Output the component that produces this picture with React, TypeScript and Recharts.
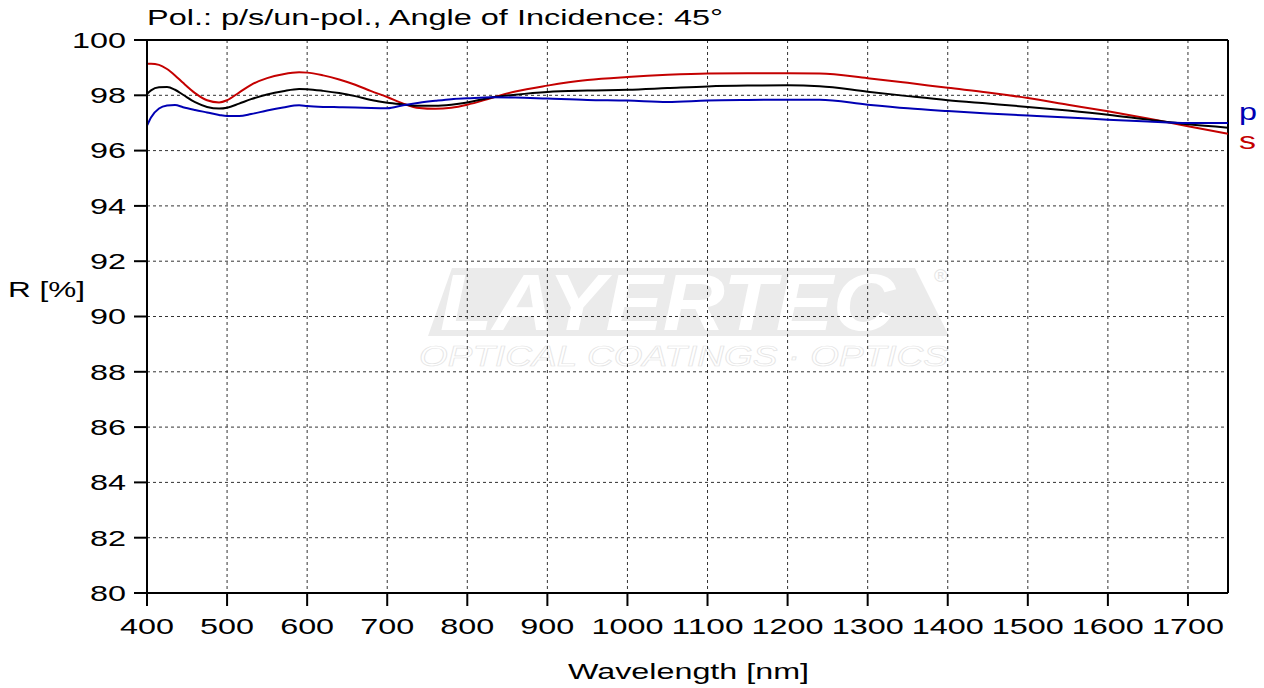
import React from "react";
import {
  LineChart,
  Line,
  XAxis,
  YAxis,
  CartesianGrid,
  ReferenceLine,
} from "recharts";

const WAVELENGTHS = [
  400, 405, 415, 425, 435, 445, 460, 475, 490, 500, 515, 530, 550, 570, 590,
  600, 620, 640, 660, 680, 700, 720, 740, 760, 780, 800, 830, 860, 900, 950,
  1000, 1050, 1100, 1150, 1200, 1240, 1300, 1350, 1400, 1450, 1500, 1550, 1600,
  1650, 1700, 1750,
];

const R_S = [
  99.14, 99.14, 99.1, 98.95, 98.72, 98.45, 98.08, 97.82, 97.74, 97.82, 98.1,
  98.38, 98.62, 98.76, 98.83, 98.82, 98.72, 98.57, 98.38, 98.15, 97.94, 97.7,
  97.54, 97.51, 97.55, 97.66, 97.9, 98.14, 98.35, 98.55, 98.66, 98.74, 98.79,
  98.8, 98.8, 98.79, 98.62, 98.45, 98.27, 98.1, 97.9, 97.66, 97.42, 97.16,
  96.88, 96.61,
];

const R_UNPOL = [
  98.05, 98.18, 98.29, 98.3, 98.2, 98.02, 97.75, 97.58, 97.52, 97.55, 97.7,
  97.86, 98.03, 98.15, 98.23, 98.22, 98.16, 98.08, 97.97, 97.83, 97.73, 97.67,
  97.62, 97.62, 97.66, 97.74, 97.92, 98.02, 98.12, 98.17, 98.2, 98.26, 98.32,
  98.35, 98.36, 98.33, 98.13, 97.97, 97.82, 97.7, 97.58, 97.45, 97.3, 97.12,
  96.95, 96.83,
];

const R_P = [
  96.9, 97.2, 97.52, 97.63, 97.65, 97.57, 97.47, 97.38, 97.29, 97.25, 97.25,
  97.32, 97.45, 97.56, 97.64, 97.61, 97.58, 97.57, 97.56, 97.54, 97.53, 97.64,
  97.73, 97.8, 97.86, 97.89, 97.93, 97.92, 97.88, 97.83, 97.81, 97.76, 97.81,
  97.83, 97.84, 97.84, 97.66, 97.53, 97.43, 97.34, 97.27, 97.2, 97.12, 97.05,
  97.0, 97.0,
];

const X_TICKS = [400, 500, 600, 700, 800, 900, 1000, 1100, 1200, 1300, 1400, 1500, 1600, 1700];
const Y_TICKS = [80, 82, 84, 86, 88, 90, 92, 94, 96, 98, 100];

const data = WAVELENGTHS.map((wl, i) => ({
  wl,
  s: R_S[i],
  unpol: R_UNPOL[i],
  p: R_P[i],
}));

const FONT = "'Liberation Sans', Arial, sans-serif";
const RED = "#c40000";
const BLUE = "#0000b4";
const DIGIT_W = 18;

function XTick(props: any) {
  const { x, y, payload } = props;
  const label = String(payload.value);
  return (
    <text
      x={x}
      y={y}
      dy={16}
      textAnchor="middle"
      fontSize={22}
      fontFamily={FONT}
      fill="#000"
      textLength={label.length * DIGIT_W}
      lengthAdjust="spacingAndGlyphs"
    >
      {label}
    </text>
  );
}

function YTick(props: any) {
  const { x, y, payload } = props;
  const label = String(payload.value);
  return (
    <text
      x={x}
      y={y}
      dy={7.8}
      textAnchor="end"
      fontSize={22}
      fontFamily={FONT}
      fill="#000"
      textLength={label.length * DIGIT_W}
      lengthAdjust="spacingAndGlyphs"
    >
      {label}
    </text>
  );
}

// logo watermark, sits behind the grid
function Watermark() {
  return (
    <svg
      width={1264}
      height={688}
      style={{ position: "absolute", left: 0, top: 0 }}
    >
      <polygon points="452,268 915,268 949,336 428,336" fill="#ebebeb" />
      <text
        x={440}
        y={330}
        fontSize={80}
        fontWeight="bold"
        fontStyle="italic"
        fontFamily={FONT}
        fill="#ffffff"
        textLength={455}
        lengthAdjust="spacingAndGlyphs"
      >
        LAYERTEC
      </text>
      <text x={934} y={282} fontSize={18} fontFamily={FONT} fill="#e4e4e4">
        ®
      </text>
      <text
        x={419}
        y={366}
        fontSize={29}
        fontStyle="italic"
        fontFamily={FONT}
        fill="none"
        stroke="#e4e4e4"
        strokeWidth={0.7}
        textLength={529}
        lengthAdjust="spacingAndGlyphs"
      >
        OPTICAL COATINGS · OPTICS
      </text>
    </svg>
  );
}

function Labels() {
  return (
    <svg
      width={1264}
      height={688}
      style={{ position: "absolute", left: 0, top: 0, pointerEvents: "none" }}
    >
      <text
        x={147}
        y={25}
        fontSize={22}
        fontFamily={FONT}
        fill="#000"
        textLength={576}
        lengthAdjust="spacingAndGlyphs"
      >
        Pol.: p/s/un-pol., Angle of Incidence: 45°
      </text>
      <text
        x={8}
        y={297}
        fontSize={22}
        fontFamily={FONT}
        fill="#000"
        textLength={77}
        lengthAdjust="spacingAndGlyphs"
      >
        R [%]
      </text>
      <text
        x={568}
        y={679}
        fontSize={22}
        fontFamily={FONT}
        fill="#000"
        textLength={241}
        lengthAdjust="spacingAndGlyphs"
      >
        Wavelength [nm]
      </text>
      <text
        x={1239}
        y={120}
        fontSize={23}
        fontFamily={FONT}
        fill={BLUE}
        textLength={18}
        lengthAdjust="spacingAndGlyphs"
      >
        p
      </text>
      <text
        x={1239}
        y={149}
        fontSize={23}
        fontFamily={FONT}
        fill={RED}
        textLength={17}
        lengthAdjust="spacingAndGlyphs"
      >
        s
      </text>
    </svg>
  );
}

export default function App() {
  return (
    <div
      style={{
        position: "absolute",
        left: 0,
        top: 0,
        width: 1264,
        height: 688,
        background: "#fff",
        overflow: "hidden",
      }}
    >
      <Watermark />
      <div style={{ position: "absolute", left: 0, top: 0 }}>
        <LineChart
          width={1264}
          height={688}
          data={data}
          margin={{ top: 40, right: 36, bottom: 0, left: 0 }}
        >
          <CartesianGrid
            stroke="#333"
            strokeDasharray="3 3"
            strokeWidth={1}
          />
          <XAxis
            dataKey="wl"
            type="number"
            domain={[400, 1750]}
            ticks={X_TICKS}
            height={95}
            tickSize={13}
            tickMargin={12}
            axisLine={{ stroke: "#000", strokeWidth: 2 }}
            tickLine={{ stroke: "#000", strokeWidth: 2 }}
            tick={<XTick />}
            allowDataOverflow
          />
          <YAxis
            type="number"
            domain={[80, 100]}
            ticks={Y_TICKS}
            width={147}
            tickSize={13}
            tickMargin={8}
            axisLine={{ stroke: "#000", strokeWidth: 2 }}
            tickLine={{ stroke: "#000", strokeWidth: 2 }}
            tick={<YTick />}
            allowDataOverflow
          />
          <ReferenceLine y={100} stroke="#000" strokeWidth={2} />
          <ReferenceLine x={1750} stroke="#000" strokeWidth={2} />
          <Line
            type="monotone"
            dataKey="s"
            stroke={RED}
            strokeWidth={2}
            dot={false}
            isAnimationActive={false}
          />
          <Line
            type="monotone"
            dataKey="unpol"
            stroke="#000"
            strokeWidth={2}
            dot={false}
            isAnimationActive={false}
          />
          <Line
            type="monotone"
            dataKey="p"
            stroke={BLUE}
            strokeWidth={2}
            dot={false}
            isAnimationActive={false}
          />
        </LineChart>
      </div>
      <Labels />
    </div>
  );
}
